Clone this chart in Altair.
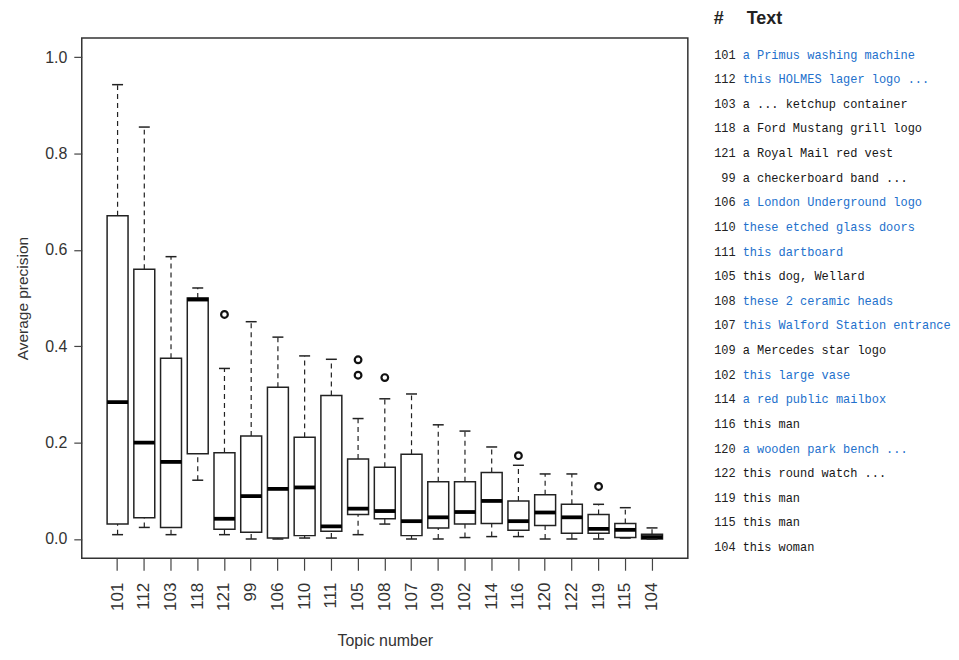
import altair as alt
import pandas as pd

topics = ["101", "112", "103", "118", "121", "99", "106", "110", "111", "105", "108",
          "107", "109", "102", "114", "116", "120", "122", "119", "115", "104"]
whisk_lo = [0.009, 0.024, 0.009, 0.122, 0.009, 0.000, 0.000, 0.002, 0.002, 0.009, 0.031,
            0.000, 0.000, 0.003, 0.005, 0.005, 0.000, 0.000, 0.000, 0.002, 0.000]
q1 = [0.031, 0.044, 0.024, 0.177, 0.020, 0.014, 0.002, 0.007, 0.016, 0.051, 0.042,
      0.007, 0.023, 0.031, 0.032, 0.018, 0.028, 0.012, 0.012, 0.003, 0.000]
median = [0.284, 0.200, 0.160, 0.497, 0.042, 0.089, 0.104, 0.107, 0.026, 0.063, 0.058,
          0.037, 0.045, 0.056, 0.079, 0.037, 0.055, 0.045, 0.021, 0.019, 0.004]
q3 = [0.671, 0.560, 0.375, 0.500, 0.179, 0.214, 0.315, 0.211, 0.298, 0.166, 0.149,
      0.176, 0.119, 0.119, 0.138, 0.079, 0.092, 0.072, 0.051, 0.032, 0.010]
whisk_hi = [0.943, 0.855, 0.586, 0.521, 0.354, 0.451, 0.419, 0.380, 0.373, 0.250, 0.291,
            0.301, 0.237, 0.224, 0.191, 0.153, 0.135, 0.135, 0.072, 0.065, 0.023]

outlier_topics = ["121", "105", "105", "108", "116", "119"]
outlier_values = [0.466, 0.372, 0.340, 0.335, 0.173, 0.109]

descriptions = ["a Primus washing machine", "this HOLMES lager logo ...", "a ... ketchup container",
                "a Ford Mustang grill logo", "a Royal Mail red vest", "a checkerboard band ...",
                "a London Underground logo", "these etched glass doors", "this dartboard",
                "this dog, Wellard", "these 2 ceramic heads", "this Walford Station entrance",
                "a Mercedes star logo", "this large vase", "a red public mailbox", "this man",
                "a wooden park bench ...", "this round watch ...", "this man", "this man", "this woman"]
text_kind = ["blue", "blue", "black", "black", "black", "black", "blue", "blue", "blue", "black",
             "blue", "blue", "black", "blue", "blue", "black", "blue", "black", "black", "black", "black"]

df = pd.DataFrame({"topic": topics, "lo": whisk_lo, "q1": q1, "med": median, "q3": q3,
                   "hi": whisk_hi, "rank": list(range(len(topics))),
                   "desc": descriptions, "kind": text_kind})
out_df = pd.DataFrame({"topic": outlier_topics, "value": outlier_values})

W, H = 608, 522
BOX = 21
INK = "#222222"

xenc = alt.X("topic:N", sort=topics,
             scale=alt.Scale(paddingInner=0, paddingOuter=0.84),
             axis=alt.Axis(title="Topic number", labelAngle=270, labelFontSize=17,
                           labelColor="#333", tickSize=12, tickColor="#444", tickWidth=1.2,
                           labelPadding=12, titleFontSize=16, titleFontWeight="normal",
                           titleColor="#333", titlePadding=22, domain=False, grid=False))
yscale = alt.Scale(domain=[-0.04, 1.04], nice=False, zero=False)
yaxis = alt.Axis(title="Average precision", values=[0, 0.2, 0.4, 0.6, 0.8, 1.0], format=".1f",
                 labelFontSize=16, labelColor="#333", tickSize=8, tickColor="#444", tickWidth=1.2,
                 labelPadding=7, titleFontSize=15.5, titleFontWeight="normal", titleColor="#333",
                 titlePadding=14, domain=False, grid=False)

base = alt.Chart(df)

whisk_up = base.mark_rule(color=INK, strokeWidth=1.2, strokeDash=[5, 4], opacity=1).encode(
    x=xenc, y=alt.Y("q3:Q", scale=yscale, axis=yaxis), y2="hi:Q")
whisk_dn = base.mark_rule(color=INK, strokeWidth=1.2, strokeDash=[5, 4], opacity=1).encode(
    x=xenc, y=alt.Y("lo:Q", scale=yscale, axis=yaxis), y2="q1:Q")
box = base.mark_bar(size=BOX, fill="white", stroke=INK, strokeWidth=1.5, opacity=1).encode(
    x=xenc, y=alt.Y("q1:Q", scale=yscale, axis=yaxis), y2="q3:Q")
med = base.mark_tick(size=BOX, thickness=3.8, color="#000", opacity=1).encode(
    x=xenc, y=alt.Y("med:Q", scale=yscale, axis=yaxis))
cap_hi = base.mark_tick(size=11, thickness=1.5, color=INK, opacity=1).encode(
    x=xenc, y=alt.Y("hi:Q", scale=yscale, axis=yaxis))
cap_lo = base.mark_tick(size=11, thickness=1.5, color=INK, opacity=1).encode(
    x=xenc, y=alt.Y("lo:Q", scale=yscale, axis=yaxis))
outl = alt.Chart(out_df).mark_point(shape="circle", filled=False, size=45, strokeWidth=2.2,
                                    color="#111", opacity=1).encode(
    x=xenc, y=alt.Y("value:Q", scale=yscale, axis=yaxis))

plot = alt.layer(whisk_up, whisk_dn, box, med, cap_hi, cap_lo, outl)

rowy = alt.Y("rank:O", scale=alt.Scale(type="point", padding=0.567), axis=None)
nums = base.mark_text(font="Liberation Mono", fontSize=12, align="right", baseline="middle",
                      dy=2.7, color="#222").encode(
    x=alt.value(656), y=rowy, text="topic:N")
descs = base.mark_text(font="Liberation Mono", fontSize=12, align="left", baseline="middle",
                       dy=2.7).encode(
    x=alt.value(663), y=rowy, text="desc:N",
    color=alt.Color("kind:N", scale=alt.Scale(domain=["blue", "black"],
                                               range=["#2270cc", "#161616"]), legend=None))
head_hash = alt.Chart(pd.DataFrame({"h": ["#"]})).mark_text(
    font="Liberation Sans", fontSize=18, fontWeight="bold", align="left", baseline="middle",
    color="#222").encode(x=alt.value(634), y=alt.value(-19), text="h:N")
head_text = alt.Chart(pd.DataFrame({"h": ["Text"]})).mark_text(
    font="Liberation Sans", fontSize=18, fontWeight="bold", align="left", baseline="middle",
    color="#222").encode(x=alt.value(667), y=alt.value(-19), text="h:N")

table = alt.layer(nums, descs, head_hash, head_text)

chart = alt.layer(plot, table).resolve_scale(y="independent").properties(
    width=W, height=H,
    padding={"left": 7, "top": 1, "right": 0, "bottom": 0},
).configure(
    font="Liberation Sans", background="white"
).configure_view(stroke="#333", strokeWidth=1.5)

chart.save("out.html", embed_options={"renderer": "svg", "actions": False})
